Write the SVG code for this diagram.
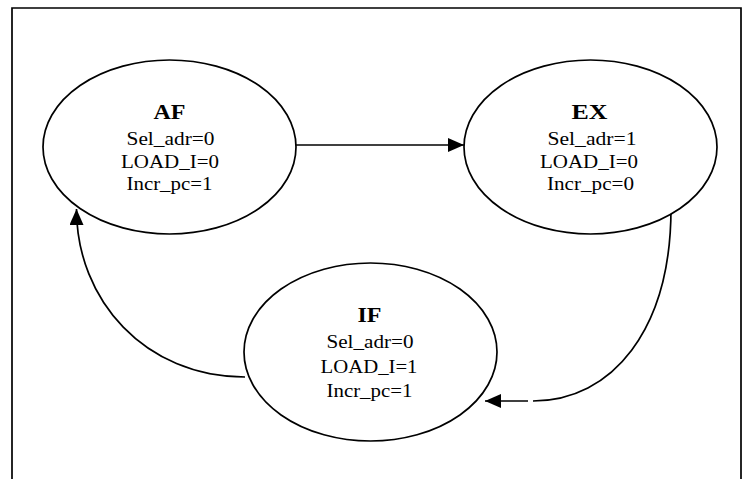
<svg xmlns="http://www.w3.org/2000/svg" width="752" height="479" viewBox="0 0 752 479">
  <style>
    .state { fill: #ffffff; stroke: #000000; stroke-width: 1.7; }
    .title { font-family: "Liberation Serif", "Times New Roman", serif; font-size: 22px; font-weight: bold; fill: #000000; text-anchor: middle; }
    .sig { font-family: "Liberation Serif", "Times New Roman", serif; font-size: 19px; fill: #000000; text-anchor: middle; }
    .edge { fill: none; stroke: #000000; stroke-width: 1.7; }
    .frame { fill: none; stroke: #000000; stroke-width: 1.7; }
  </style>
  <defs>
    <marker id="arrow" viewBox="0 0 16 14" refX="16" refY="7" markerWidth="16" markerHeight="14" markerUnits="userSpaceOnUse" orient="auto">
      <path d="M0,0 L16,7 L0,14 Z" fill="#000000"/>
    </marker>
  </defs>

  <rect width="752" height="479" fill="#ffffff"/>
  <!-- open frame around the state chart -->
  <path class="frame" d="M12,479 L12,8 L741,8 L741,479"/>

  <g id="connectors">
    <!-- AF to EX -->
    <line class="edge" x1="296" y1="145" x2="464" y2="145" marker-end="url(#arrow)"/>
    <!-- EX to IF -->
    <path class="edge" d="M671,208 C671,330 612,401 533,401"/>
    <line class="edge" x1="528" y1="401" x2="485" y2="401" marker-end="url(#arrow)"/>
    <!-- IF to AF -->
    <path class="edge" d="M245,377 C145,377 76.5,300 76.5,209" marker-end="url(#arrow)"/>
  </g>

  <g id="state-AF">
    <ellipse class="state" cx="169.5" cy="147" rx="126.5" ry="87"/>
    <text class="title" x="169.5" y="119" textLength="32" lengthAdjust="spacingAndGlyphs">AF</text>
    <text class="sig" x="170.5" y="145" textLength="88" lengthAdjust="spacingAndGlyphs">Sel_adr=0</text>
    <text class="sig" x="170" y="168" textLength="98" lengthAdjust="spacingAndGlyphs">LOAD_I=0</text>
    <text class="sig" x="169.5" y="190" textLength="86" lengthAdjust="spacingAndGlyphs">Incr_pc=1</text>
  </g>

  <g id="state-EX">
    <ellipse class="state" cx="590.5" cy="147" rx="126.5" ry="87"/>
    <text class="title" x="589.5" y="119" textLength="36" lengthAdjust="spacingAndGlyphs">EX</text>
    <text class="sig" x="592" y="145" textLength="89" lengthAdjust="spacingAndGlyphs">Sel_adr=1</text>
    <text class="sig" x="589" y="168" textLength="98" lengthAdjust="spacingAndGlyphs">LOAD_I=0</text>
    <text class="sig" x="590.5" y="190" textLength="87" lengthAdjust="spacingAndGlyphs">Incr_pc=0</text>
  </g>

  <g id="state-IF">
    <ellipse class="state" cx="370.5" cy="352" rx="126.5" ry="89"/>
    <text class="title" x="369.5" y="322" textLength="24" lengthAdjust="spacingAndGlyphs">IF</text>
    <text class="sig" x="370" y="348" textLength="87" lengthAdjust="spacingAndGlyphs">Sel_adr=0</text>
    <text class="sig" x="369" y="372.5" textLength="97" lengthAdjust="spacingAndGlyphs">LOAD_I=1</text>
    <text class="sig" x="369.5" y="396.5" textLength="86" lengthAdjust="spacingAndGlyphs">Incr_pc=1</text>
  </g>
</svg>
